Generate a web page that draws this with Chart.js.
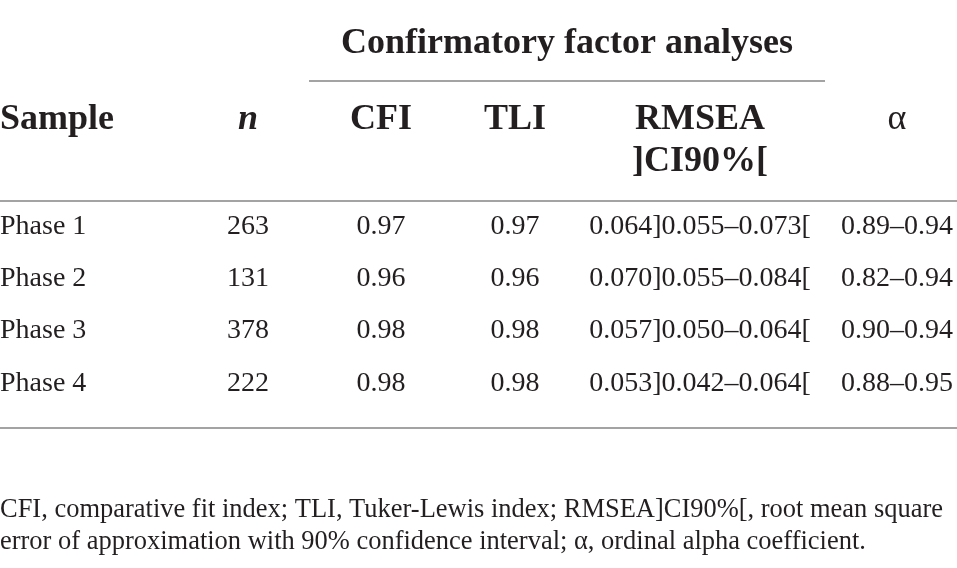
<!DOCTYPE html>
<html><head><meta charset="utf-8">
<script src="https://cdn.jsdelivr.net/npm/chart.js@4.4.1/dist/chart.umd.min.js"></script>
<style>html,body{margin:0;padding:0;background:#fff;overflow:hidden}</style>
</head><body>
<canvas id="c" width="957" height="568"></canvas>
<script>
// ---- data ----
const samples = ["Phase 1", "Phase 2", "Phase 3", "Phase 4"];
const nValues = [263, 131, 378, 222];
const cfiValues = [0.97, 0.96, 0.98, 0.98];
const tliValues = [0.97, 0.96, 0.98, 0.98];
const rmseaValues = [0.064, 0.070, 0.057, 0.053];
const ciLow = [0.055, 0.055, 0.050, 0.042];
const ciHigh = [0.073, 0.084, 0.064, 0.064];
const alphaLow = [0.89, 0.82, 0.90, 0.88];
const alphaHigh = [0.94, 0.94, 0.94, 0.95];
const spanHeader = "Confirmatory factor analyses";
const columnHeaders = ["Sample", "n", "CFI", "TLI", "RMSEA", "α"];
const subHeader = "]CI90%[";
const footnoteLines = [
  "CFI, comparative fit index; TLI, Tuker-Lewis index; RMSEA]CI90%[, root mean square",
  "error of approximation with 90% confidence interval; α, ordinal alpha coefficient."
];

// ---- layout (pixel space of the scales) ----
const W = 957, H = 568;
const colX = [0, 248, 381, 515, 700, 897];
const colAlign = ["left", "center", "center", "center", "center", "center"];
const rowY = [234, 286, 338, 390.5];
const headerY = 129, subHeaderY = 171, spanY = 53;
const TEXT = "#231f20", RULE = "#a3a3a3";
const SERIF = "'Liberation Serif', 'Times New Roman', serif";

const cellText = [
  samples,
  nValues.map(v => String(v)),
  cfiValues.map(v => v.toFixed(2)),
  tliValues.map(v => v.toFixed(2)),
  rmseaValues.map((v, i) => v.toFixed(3) + "]" + ciLow[i].toFixed(3) + "–" + ciHigh[i].toFixed(3) + "["),
  alphaLow.map((v, i) => v.toFixed(2) + "–" + alphaHigh[i].toFixed(2))
];

const datasets = cellText.map((texts, c) => ({
  label: columnHeaders[c],
  data: texts.map((t, r) => ({ x: colX[c], y: rowY[r] })),
  texts: texts,
  align: colAlign[c],
  pointRadius: 0,
  showLine: false
}));

const tablePlugin = {
  id: "tableText",
  afterDatasetsDraw(chart) {
    const ctx = chart.ctx;
    const xs = chart.scales.x, ys = chart.scales.y;
    const px = v => xs.getPixelForValue(v), py = v => ys.getPixelForValue(v);
    ctx.save();
    ctx.textBaseline = "alphabetic";
    ctx.fillStyle = TEXT;
    // rules
    ctx.strokeStyle = RULE;
    ctx.lineWidth = 2;
    [[309, 825, 81], [0, 957, 201], [0, 957, 428]].forEach(([a, b, y]) => {
      ctx.beginPath(); ctx.moveTo(px(a), py(y)); ctx.lineTo(px(b), py(y)); ctx.stroke();
    });
    // span header
    ctx.font = "bold 36px " + SERIF;
    ctx.textAlign = "center";
    ctx.fillText(spanHeader, px(567), py(spanY));
    // column headers
    columnHeaders.forEach((h, c) => {
      ctx.textAlign = colAlign[c];
      if (c === 1) ctx.font = "italic bold 36px " + SERIF;
      else if (c === 5) ctx.font = "36px " + SERIF;
      else ctx.font = "bold 36px " + SERIF;
      ctx.fillText(h, px(colX[c]), py(headerY));
    });
    ctx.font = "bold 36px " + SERIF;
    ctx.textAlign = "center";
    ctx.fillText(subHeader, px(colX[4]), py(subHeaderY));
    // cells
    ctx.font = "28px " + SERIF;
    chart.data.datasets.forEach((ds, i) => {
      const meta = chart.getDatasetMeta(i);
      ctx.textAlign = ds.align;
      meta.data.forEach((el, j) => ctx.fillText(ds.texts[j], el.x, el.y));
    });
    // footnote
    ctx.font = "27px " + SERIF;
    ctx.textAlign = "left";
    const w0 = ctx.measureText(footnoteLines[0]).width;
    const sx = 943 / w0;
    [517, 549].forEach((y, k) => {
      ctx.save();
      ctx.translate(px(0), py(y));
      ctx.scale(sx, 1);
      ctx.fillText(footnoteLines[k], 0, 0);
      ctx.restore();
    });
    ctx.restore();
  }
};

new Chart(document.getElementById("c"), {
  type: "scatter",
  data: { datasets },
  options: {
    responsive: false,
    animation: false,
    devicePixelRatio: 1,
    layout: { padding: 0 },
    plugins: { legend: { display: false }, tooltip: { enabled: false } },
    scales: {
      x: { type: "linear", min: 0, max: W, display: false },
      y: { type: "linear", min: 0, max: H, reverse: true, display: false }
    }
  },
  plugins: [tablePlugin]
});
</script>
</body></html>
